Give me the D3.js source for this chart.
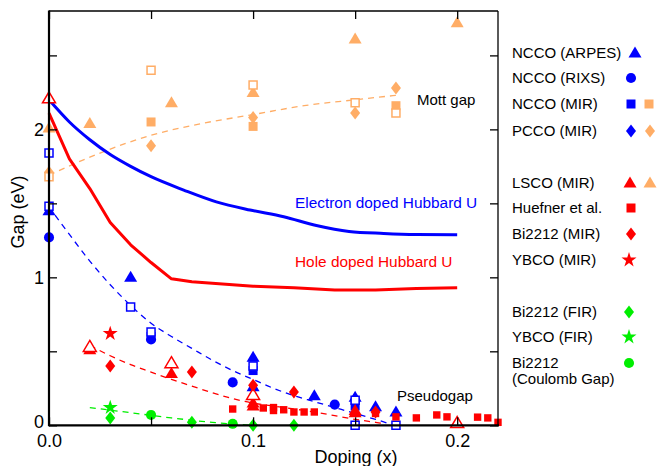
<!DOCTYPE html>
<html><head><meta charset="utf-8">
<script src="https://cdn.jsdelivr.net/npm/d3@7"></script>
<style>
html,body{margin:0;padding:0;background:#fff;}
svg text{font-family:"Liberation Sans",Arial,sans-serif;}
</style></head>
<body><svg id="c" width="657" height="466"></svg>
<script>
// ---------- data ----------
const xTicks = [0, 0.05, 0.1, 0.15, 0.2];
const xTickLabels = ["0.0", "", "0.1", "", "0.2"];
const yTicks = [0, 0.5, 1, 1.5, 2, 2.5];
const yTickLabels = ["0", "", "1", "", "2", ""];

// Hubbard U curves
const electronU = [[0,2.2],[0.01,2.05],[0.02,1.93],[0.03,1.83],[0.04,1.75],[0.05,1.68],[0.066,1.59],[0.082,1.51],[0.0985,1.455],[0.115,1.41],[0.131,1.35],[0.147,1.31],[0.164,1.297],[0.18,1.29],[0.2,1.288]];
const holeU = [[0,2.11],[0.01,1.8],[0.02,1.6],[0.03,1.37],[0.04,1.22],[0.05,1.1],[0.06,0.99],[0.07,0.97],[0.08,0.96],[0.1,0.94],[0.12,0.93],[0.14,0.915],[0.16,0.915],[0.18,0.925],[0.2,0.93]];
// dashed guide lines
const mottFit = [[0,1.69],[0.025,1.84],[0.05,1.96],[0.075,2.04],[0.1,2.1],[0.125,2.16],[0.15,2.2],[0.17,2.23]];
const blueFit = [[0.003,1.42],[0.01,1.29],[0.02,1.11],[0.03,0.95],[0.04,0.81],[0.05,0.69],[0.06,0.6],[0.07,0.52],[0.08,0.44],[0.09,0.37],[0.1,0.31],[0.11,0.25],[0.12,0.2],[0.13,0.16],[0.14,0.12],[0.15,0.08],[0.16,0.04],[0.167,0.01]];
const redFit = [[0.02,0.54],[0.03,0.47],[0.04,0.41],[0.05,0.36],[0.06,0.31],[0.07,0.265],[0.08,0.22],[0.09,0.18],[0.1,0.15],[0.11,0.13],[0.12,0.11],[0.13,0.09],[0.14,0.065],[0.15,0.04],[0.16,0.02],[0.165,0.01]];
const greenFit = [[0.02,0.12],[0.04,0.085],[0.06,0.05],[0.08,0.02],[0.1,0.0]];

// Mott gap (orange)
const mottSquareFilled = [[0.05,2.05],[0.1,2.02],[0.17,2.16]];
const mottSquareOpen = [[0,1.68],[0.05,2.40],[0.1,2.30],[0.15,2.18],[0.17,2.11]];
const mottDiamond = [[0,1.71],[0.05,1.89],[0.1,2.08],[0.15,2.11],[0.17,2.28]];
const mottTriangle = [[0,2.01],[0.02,2.04],[0.06,2.18],[0.1,2.25],[0.15,2.61],[0.2,2.72]];
// electron doped (blue)
const nccoArpes = [[0,1.45],[0.04,1.0],[0.1,0.46],[0.1,0.26],[0.13,0.20],[0.15,0.19],[0.16,0.125],[0.17,0.09]];
const nccoRixs = [[0,1.27],[0.05,0.58],[0.09,0.29],[0.14,0.14]];
const nccoMirFilled = [[0.05,0.60],[0.1,0.37],[0.15,0.13]];
const nccoMirOpen = [[0,1.84],[0,1.48],[0.04,0.80],[0.05,0.63],[0.1,0.40],[0.15,0.17],[0.15,0.0],[0.17,0.0]];
// hole doped (red)
const lscoFilled = [[0.02,0.51],[0.06,0.35],[0.1,0.15],[0.1,0.13],[0.15,0.085],[0.15,0.1]];
const lscoOpen = [[0,2.21],[0.02,0.53],[0.06,0.42],[0.1,0.205],[0.2,0.015]];
const huefner = [[0.09,0.11],[0.105,0.117],[0.11,0.12],[0.11,0.1],[0.115,0.105],[0.12,0.09],[0.125,0.09],[0.13,0.09],[0.16,0.08],[0.17,0.057],[0.18,0.05],[0.19,0.07],[0.195,0.057],[0.21,0.055],[0.215,0.05],[0.22,0.02]];
const bi2212Mir = [[0.03,0.40],[0.07,0.36],[0.1,0.27],[0.12,0.225],[0.16,0.09]];
const ybcoMir = [[0.03,0.62]];
// green
const bi2212Fir = [[0.03,0.05],[0.07,0.02],[0.1,0.0],[0.12,0.0]];
const ybcoFir = [[0.03,0.12]];
const coulombGap = [[0.05,0.07],[0.09,0.01]];

const legendLabels = ["NCCO (ARPES)","NCCO (RIXS)","NCCO (MIR)","PCCO (MIR)","LSCO (MIR)","Huefner et al.","Bi2212 (MIR)","YBCO (MIR)","Bi2212 (FIR)","YBCO (FIR)","Bi2212"];

// ---------- drawing ----------
const BLUE="#0000ff", RED="#ff0000", ORANGE="#ffad66", GREEN="#00ee00";
const svg = d3.select("#c");
const L=49, R=498, T=11, B=425.3;
const x = d3.scaleLinear().domain([0,0.22]).range([L,R]);
const y = d3.scaleLinear().domain([0,2.8]).range([B,T]);

function shape(type){
  switch(type){
    case "tri": return "M0,-6.5L6.5,4.5L-6.5,4.5Z";
    case "sq": return "M-4.5,-4.5h9v9h-9Z";
    case "sqo": return "M-4,-4h8v8h-8Z";
    case "sqs": return "M-3.7,-3.7h7.4v7.4h-7.4Z";
    case "dia": return "M0,-6.5L5,0L0,6.5L-5,0Z";
    case "circ": return d3.symbol(d3.symbolCircle, 80)();
    case "star": return d3.symbol(d3.symbolStar, 70)();
  }
}

const line = d3.line().x(d=>x(d[0])).y(d=>y(d[1]));
const smooth = d3.line().x(d=>x(d[0])).y(d=>y(d[1])).curve(d3.curveMonotoneX);
const gLines = svg.append("g");
[[mottFit,ORANGE],[blueFit,BLUE],[redFit,RED],[greenFit,GREEN]].forEach(([d,c])=>{
  gLines.append("path").attr("d",smooth(d)).attr("fill","none").attr("stroke",c)
    .attr("stroke-width",1.3).attr("stroke-dasharray","6,5");
});
gLines.append("path").attr("d",smooth(electronU)).attr("fill","none").attr("stroke",BLUE)
  .attr("stroke-width",3).attr("stroke-linejoin","round");
gLines.append("path").attr("d",line(holeU)).attr("fill","none").attr("stroke",RED)
  .attr("stroke-width",3).attr("stroke-linejoin","round");

const series = [
  [mottTriangle,"tri",ORANGE,false],
  [mottSquareFilled,"sq",ORANGE,false],
  [mottDiamond,"dia",ORANGE,false],
  [mottSquareOpen,"sqo",ORANGE,true],
  [nccoRixs,"circ",BLUE,false],
  [nccoMirFilled,"sq",BLUE,false],
  [nccoArpes,"tri",BLUE,false],
  [nccoMirOpen,"sqo",BLUE,true],
  [huefner,"sqs",RED,false],
  [lscoFilled,"tri",RED,false],
  [lscoOpen,"tri",RED,true],
  [bi2212Mir,"dia",RED,false],
  [ybcoMir,"star",RED,false],
  [bi2212Fir,"dia",GREEN,false],
  [ybcoFir,"star",GREEN,false],
  [coulombGap,"circ",GREEN,false]
];
const gPts = svg.append("g");
series.forEach(([data,type,col,open])=>{
  gPts.selectAll(null).data(data).enter().append("path")
    .attr("d",shape(type))
    .attr("transform",d=>`translate(${x(d[0])},${y(d[1])})`)
    .attr("fill",open?"#fff":col)
    .attr("stroke",col).attr("stroke-width",open?1.5:0);
});

// axes (ticks pointing inward)
const fmtX = d=>xTickLabels[xTicks.indexOf(d)];
const fmtY = d=>yTickLabels[yTicks.indexOf(d)];
const axB = svg.append("g").attr("transform",`translate(0,${B})`)
  .call(d3.axisBottom(x).tickValues(xTicks).tickFormat(fmtX).tickSizeInner(-8).tickSizeOuter(0).tickPadding(9));
const axT = svg.append("g").attr("transform",`translate(0,${T})`)
  .call(d3.axisTop(x).tickValues(xTicks).tickFormat("").tickSizeInner(-8).tickSizeOuter(0));
const axL = svg.append("g").attr("transform",`translate(${L},0)`)
  .call(d3.axisLeft(y).tickValues(yTicks).tickFormat(fmtY).tickSizeInner(-8).tickSizeOuter(0).tickPadding(5));
const axR = svg.append("g").attr("transform",`translate(${R},0)`)
  .call(d3.axisRight(y).tickValues(yTicks).tickFormat("").tickSizeInner(-8).tickSizeOuter(0));
[axB,axT,axL,axR].forEach(a=>{
  a.select(".domain").remove();
  a.selectAll(".tick line").attr("stroke","#000").attr("stroke-width",1.3);
  a.selectAll("text").attr("font-size",18).attr("fill","#000")
    .attr("font-family","Liberation Sans, Arial, sans-serif");
});
// nudge the y "0" label slightly up so it does not collide with "0.0"
axL.selectAll(".tick").filter(d=>d===0).select("text").attr("dy","0.12em");
// frame
svg.append("line").attr("x1",L).attr("x2",R).attr("y1",T).attr("y2",T).attr("stroke","#000").attr("stroke-width",1.3);
svg.append("line").attr("x1",R).attr("x2",R).attr("y1",T).attr("y2",B).attr("stroke","#000").attr("stroke-width",1.3);
svg.append("line").attr("x1",L).attr("x2",R+1).attr("y1",B).attr("y2",B).attr("stroke","#000").attr("stroke-width",2.2);
svg.append("line").attr("x1",L).attr("x2",L).attr("y1",T-0.6).attr("y2",B+1).attr("stroke","#000").attr("stroke-width",2.2);

// axis titles
svg.append("text").attr("x",356).attr("y",463).attr("text-anchor","middle").attr("font-size",18).text("Doping (x)");
svg.append("text").attr("transform","translate(24,212) rotate(-90)").attr("text-anchor","middle").attr("font-size",18).text("Gap (eV)");

// annotations
svg.append("text").attr("x",417).attr("y",100).attr("dy","0.35em").attr("font-size",15).attr("fill","#000").text("Mott gap");
svg.append("text").attr("x",295).attr("y",203).attr("dy","0.35em").attr("font-size",15.4).attr("fill",BLUE).text("Electron doped Hubbard U");
svg.append("text").attr("x",295).attr("y",262).attr("dy","0.35em").attr("font-size",15.4).attr("fill",RED).text("Hole doped Hubbard U");
svg.append("text").attr("x",397).attr("y",396).attr("dy","0.35em").attr("font-size",15).attr("fill","#000").text("Pseudogap");

// legend
const legY = [53,78,104,131,183,208,234,260,312,337,363];
const legMarks = [
  [["tri",BLUE,635]],
  [["circ",BLUE,631]],
  [["sq",BLUE,631],["sq",ORANGE,649]],
  [["dia",BLUE,631],["dia",ORANGE,650]],
  [["tri",RED,630],["tri",ORANGE,650]],
  [["sq",RED,631]],
  [["dia",RED,631]],
  [["star",RED,629]],
  [["dia",GREEN,629]],
  [["star",GREEN,629]],
  [["circ",GREEN,629]]
];
const gLeg = svg.append("g");
legendLabels.forEach((lab,i)=>{
  gLeg.append("text").attr("x",512).attr("y",legY[i]).attr("dy","0.35em").attr("font-size",15).text(lab);
  legMarks[i].forEach(([t,c,mx])=>{
    gLeg.append("path").attr("d",shape(t)).attr("transform",`translate(${mx},${legY[i]})`).attr("fill",c);
  });
});
gLeg.append("text").attr("x",512).attr("y",379).attr("dy","0.35em").attr("font-size",15).text("(Coulomb Gap)");
</script></body></html>
